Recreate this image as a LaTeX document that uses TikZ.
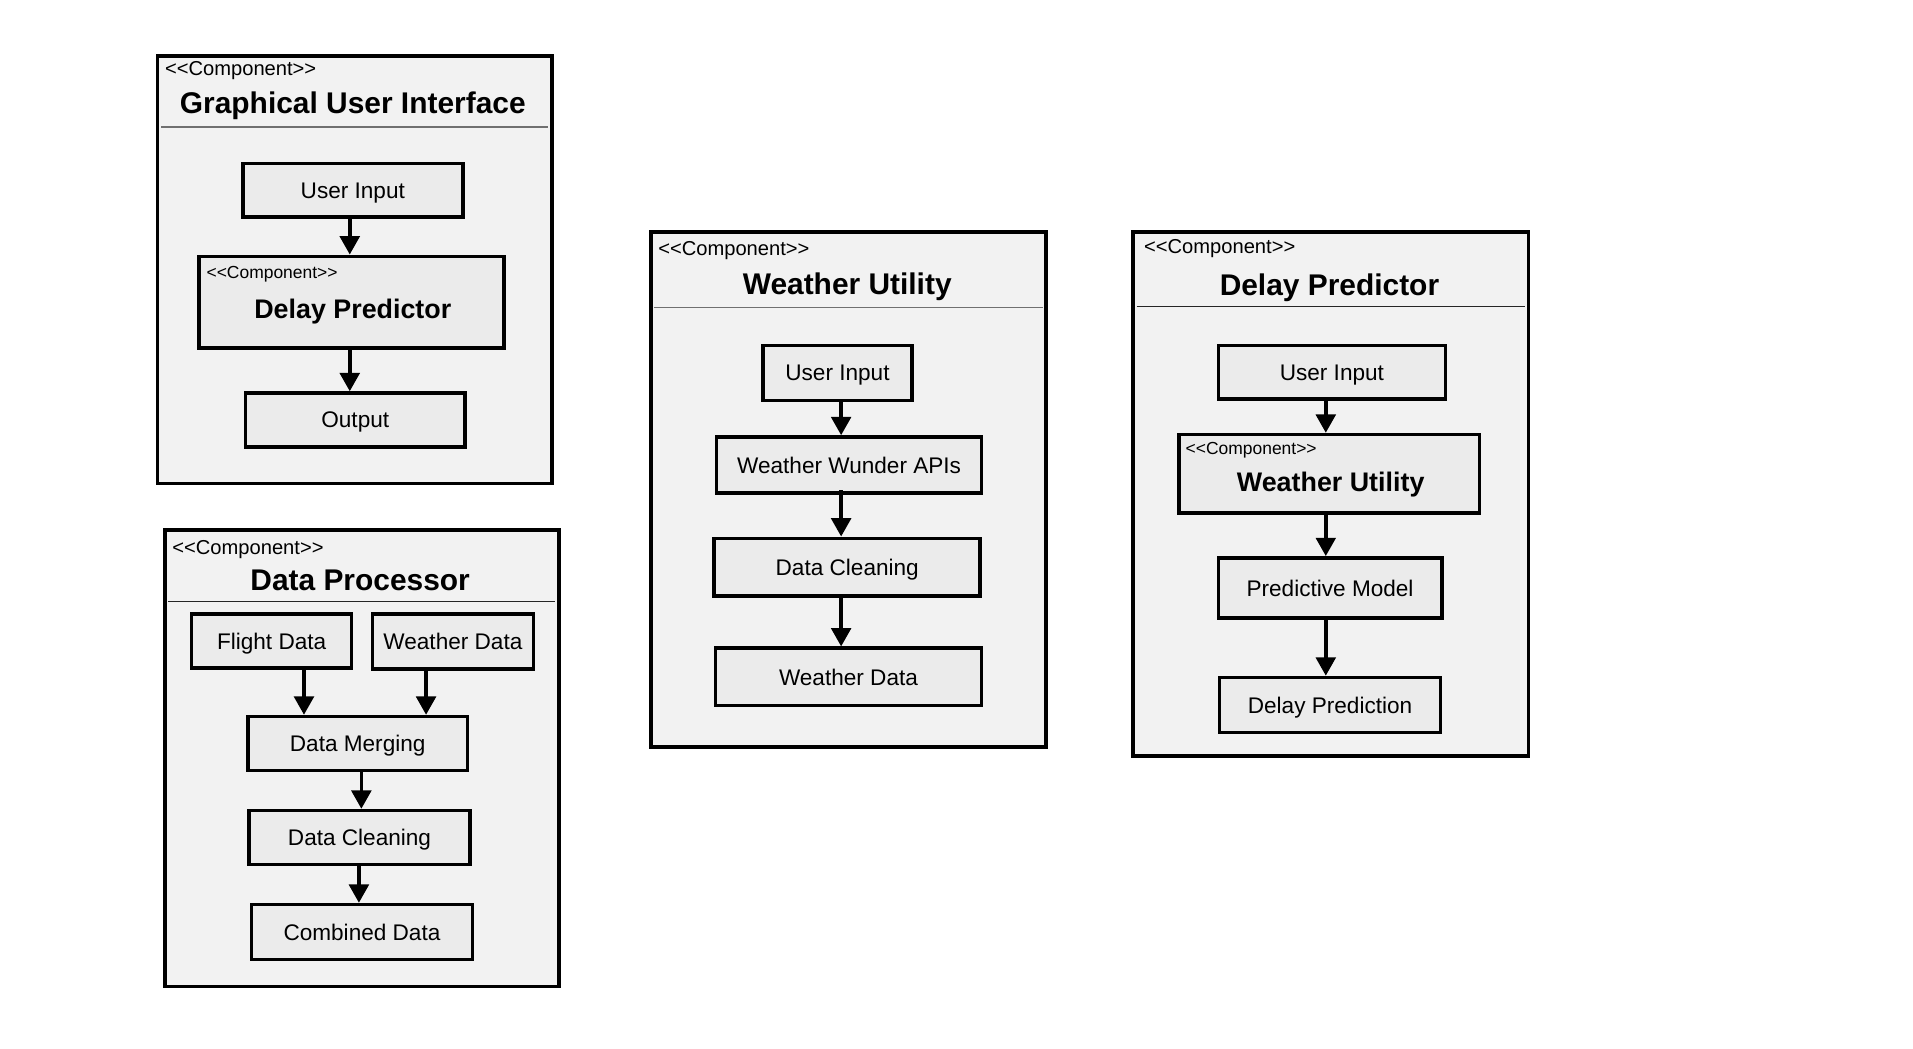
\documentclass[tikz,border=0pt]{standalone}
\usepackage{fontspec}
\setmainfont{Liberation Sans}
\usetikzlibrary{arrows.meta}
\definecolor{outerfill}{HTML}{F2F2F2}
\definecolor{innerfill}{HTML}{EBEBEB}
\definecolor{sepgray}{HTML}{707070}
\newcommand\stereotxt{<\kern0pt<Component>\kern0pt>}
\begin{document}
\begin{tikzpicture}[x=1pt,y=-1pt,
  outerbox/.style={draw=black, line width=3pt, fill=outerfill, inner sep=0pt},
  inbox/.style={draw=black, line width=3pt, fill=innerfill, inner sep=0pt,
    text depth=0pt, font=\fontsize{18.5}{22}\selectfont},
  arr/.style={line width=3pt, -{Triangle[length=15pt,width=16pt]}},
  sepline/.style={line width=1.2pt, draw=sepgray},
  stereo/.style={anchor=west, inner sep=0pt, font=\fontsize{16.5}{18}\selectfont},
  istereo/.style={anchor=west, inner sep=0pt, font=\fontsize{14.3}{16}\selectfont},
  titletxt/.style={inner sep=0pt, text depth=0pt, font=\bfseries\fontsize{24.5}{28}\selectfont},
  ititle/.style={inner sep=0pt, text depth=0pt, font=\bfseries\fontsize{22}{26}\selectfont}]
\fill[white] (0,0) rectangle (1567,859);
\useasboundingbox (0,0) rectangle (1567,859);

% ---------- Graphical User Interface ----------
\node[outerbox, minimum width=323pt, minimum height=350pt] (gui) at (290.5,221) {};
\node[stereo] (guist) at (135,58) {\stereotxt};
\node[titletxt] (guititle) at (289,84) {Graphical User Interface};
\draw[sepline, line width=2pt] (132,104) -- (449,104);
\node[inbox, minimum width=180pt, minimum height=44pt] (guiin) at (289,156) {User Input};
\node[inbox, minimum width=250pt, minimum height=75pt] (guidp) at (288,247.5) {};
\node[istereo] (guidpst) at (169,225) {\stereotxt};
\node[ititle] (guidpt) at (289,253) {Delay Predictor};
\node[inbox, minimum width=180pt, minimum height=44pt] (guiout) at (291,344) {Output};
\coordinate (guix) at (286.5,0);
\draw[arr] (guiin.south -| guix) -- (guidp.north -| guix);
\draw[arr] (guidp.south -| guix) -- (guiout.north -| guix);

% ---------- Data Processor ----------
\node[outerbox, minimum width=323pt, minimum height=374pt] (dp) at (296.5,621) {};
\node[stereo] (dpst) at (141,450) {\stereotxt};
\node[titletxt] (dptitle) at (295,475) {Data Processor};
\draw[sepline, draw=black!85, line width=1pt] (138,493) -- (455,493);
\node[inbox, minimum width=131pt, minimum height=44pt] (dpfd) at (222.5,525) {Flight Data};
\node[inbox, minimum width=132pt, minimum height=45pt] (dpwd) at (371,525.5) {Weather Data};
\node[inbox, minimum width=180pt, minimum height=44pt] (dpdm) at (293,609) {Data Merging};
\node[inbox, minimum width=181pt, minimum height=44pt] (dpdc) at (294.5,686) {Data Cleaning};
\node[inbox, minimum width=181pt, minimum height=45pt] (dpcd) at (296.5,763.5) {Combined Data};
\coordinate (dpx1) at (249,0);
\coordinate (dpx2) at (349,0);
\coordinate (dpx3) at (296,0);
\coordinate (dpx4) at (294,0);
\draw[arr] (dpfd.south -| dpx1) -- (dpdm.north -| dpx1);
\draw[arr] (dpwd.south -| dpx2) -- (dpdm.north -| dpx2);
\draw[arr] (dpdm.south -| dpx3) -- (dpdc.north -| dpx3);
\draw[arr] (dpdc.south -| dpx4) -- (dpcd.north -| dpx4);

% ---------- Weather Utility ----------
\node[outerbox, minimum width=324pt, minimum height=422pt] (wu) at (695,401) {};
\node[stereo] (wust) at (539,205) {\stereotxt};
\node[titletxt] (wutitle) at (694,232) {Weather Utility};
\draw[sepline] (536,252) -- (854,252);
\node[inbox, minimum width=122pt, minimum height=45pt] (wuin) at (686,305.5) {User Input};
\node[inbox, minimum width=217pt, minimum height=46pt] (wuapi) at (695.5,381) {Weather Wunder APIs};
\node[inbox, minimum width=218pt, minimum height=47pt] (wudc) at (694,464.5) {Data Cleaning};
\node[inbox, minimum width=218pt, minimum height=47pt] (wuwd) at (695,554.5) {Weather Data};
\coordinate (wux) at (689,0);
\draw[arr] (wuin.south -| wux) -- (wuapi.north -| wux);
\draw[arr] ([yshift=4pt]wuapi.south -| wux) -- (wudc.north -| wux);
\draw[arr] (wudc.south -| wux) -- (wuwd.north -| wux);

% ---------- Delay Predictor ----------
\node[outerbox, minimum width=324pt, minimum height=429pt] (dpr) at (1090,404.5) {};
\node[stereo] (dprst) at (937,204) {\stereotxt};
\node[titletxt] (dprtitle) at (1089,233) {Delay Predictor};
\draw[sepline, draw=black!85, line width=1pt] (931,251) -- (1249,251);
\node[inbox, minimum width=186pt, minimum height=44pt] (dprin) at (1091,305) {User Input};
\node[inbox, minimum width=246pt, minimum height=64pt] (dprwu) at (1089,388) {};
\node[istereo] (dprwust) at (971,369) {\stereotxt};
\node[ititle] (dprwut) at (1090,395) {Weather Utility};
\node[inbox, minimum width=183pt, minimum height=49pt] (dprpm) at (1089.5,481.5) {Predictive Model};
\node[inbox, minimum width=181pt, minimum height=45pt] (dprdp) at (1089.5,577.5) {Delay Prediction};
\coordinate (dprx) at (1086,0);
\draw[arr] (dprin.south -| dprx) -- (dprwu.north -| dprx);
\draw[arr] (dprwu.south -| dprx) -- (dprpm.north -| dprx);
\draw[arr] (dprpm.south -| dprx) -- (dprdp.north -| dprx);
\end{tikzpicture}
\end{document}
